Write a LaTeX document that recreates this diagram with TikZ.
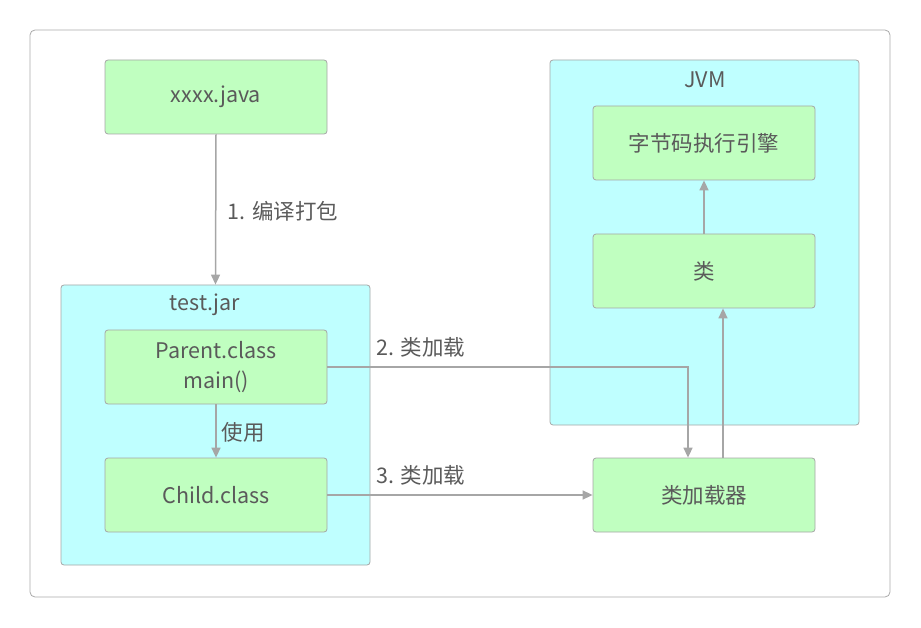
\documentclass[tikz,border=0pt]{standalone}
\usepackage{fontspec}
\setmainfont{Noto Sans CJK SC}
\usetikzlibrary{arrows.meta}
\definecolor{boxgreen}{HTML}{C0FFC0}
\definecolor{boxcyan}{HTML}{BFFFFF}
\definecolor{edgegray}{HTML}{A6A6A6}
\definecolor{txtgray}{HTML}{5A5A5A}
\definecolor{framegray}{HTML}{AAAAAA}
\begin{document}
\begin{tikzpicture}[x=1pt,y=-1pt,
  every node/.style={font=\fontsize{21.5}{30}\selectfont, text=txtgray},
  gbox/.style={draw=edgegray, fill=boxgreen, rounded corners=3pt, line width=0.8pt,
    minimum width=222pt, minimum height=74pt, inner sep=0pt, align=center},
  cbox/.style={draw=edgegray, fill=boxcyan, rounded corners=3pt, line width=0.8pt, inner sep=0pt},
  conn/.style={draw=edgegray, line width=1.5pt, -{Triangle[length=10pt,width=9pt]}},
  lbl/.style={inner sep=0pt}]
\useasboundingbox (0,0) rectangle (921,628);
\node[draw=framegray, rounded corners=5pt, line width=0.8pt, minimum width=860pt, minimum height=567pt, inner sep=0pt] (frame) at (460,313.5) {};
% containers
\node[cbox, minimum width=309pt, minimum height=280pt] (jar) at (215.5,425) {};
\node[lbl] (jarlbl) at (205,305) {test.jar};
\node[cbox, minimum width=309pt, minimum height=365pt] (jvm) at (704.5,242.5) {};
\node[lbl] (jvmlbl) at (705,80) {JVM};
% boxes
\node[gbox] (java) at (216,97) {xxxx.java};
\node[gbox] (parent) at (216,367) {Parent.class\\main()};
\node[gbox] (child) at (216,495) {Child.class};
\node[gbox] (engine) at (704,143) {字节码执行引擎};
\node[gbox] (cls) at (704,271) {类};
\node[gbox] (loader) at (704,495) {类加载器};
% connectors
\draw[conn] (java.south) -- (jar.north);
\node[lbl] (l1) at (283,211) {1. 编译打包};
\draw[conn] (parent.south) -- (child.north);
\node[lbl] (luse) at (243,432) {使用};
\draw[conn] (parent.east) -- (688,367) -- (loader.north -| 688,0);
\node[lbl] (l2) at (421,347) {2. 类加载};
\draw[conn] (child.east) -- (loader.west);
\node[lbl] (l3) at (421,475) {3. 类加载};
\draw[conn] (loader.north -| 723,0) -- (cls.south -| 723,0);
\draw[conn] (cls.north) -- (engine.south);
\end{tikzpicture}
\end{document}
